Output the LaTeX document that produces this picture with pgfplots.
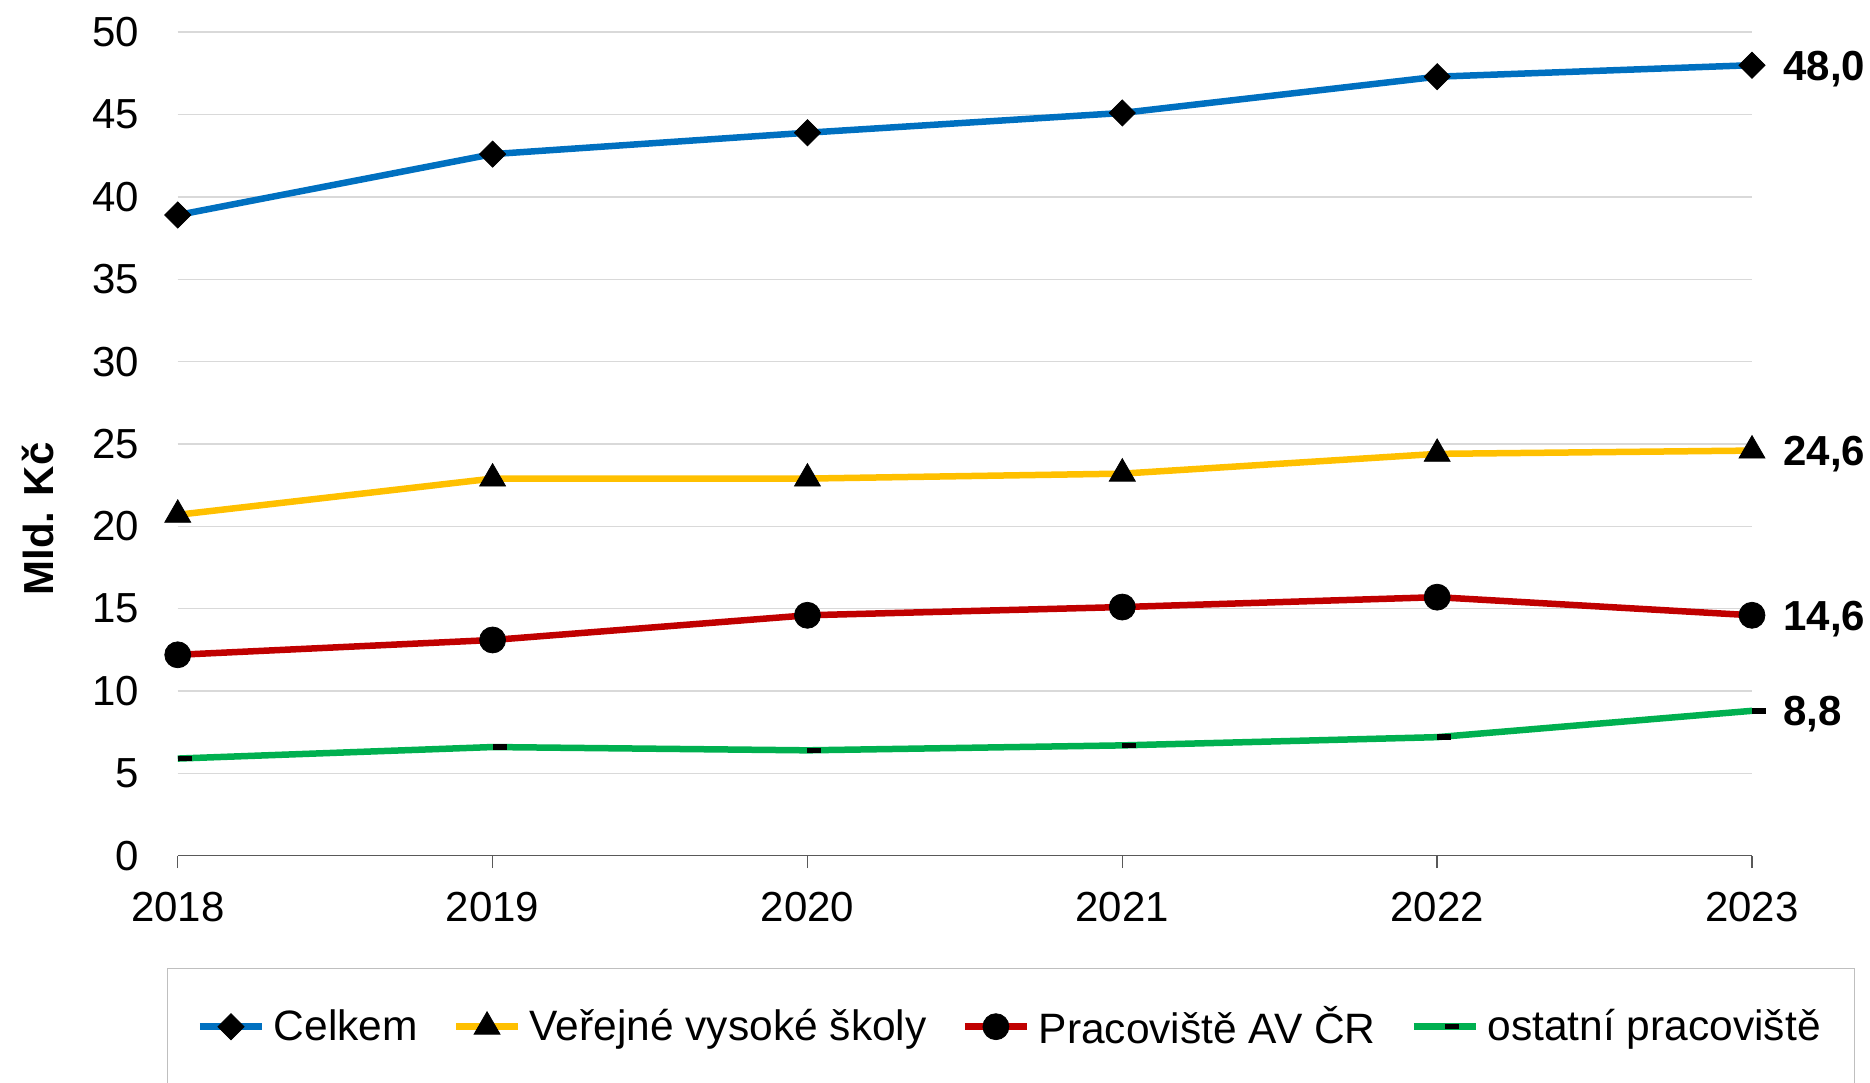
\documentclass[border=0pt]{standalone}
\usepackage{fontspec}
\setmainfont{Liberation Sans}
\usepackage{pgfplots}
\pgfplotsset{compat=1.18}
\definecolor{cblue}{RGB}{0,112,192}
\definecolor{cyellow}{RGB}{255,192,0}
\definecolor{cred}{RGB}{192,0,0}
\definecolor{cgreen}{RGB}{0,176,80}
\definecolor{cgrid}{RGB}{217,217,217}
\definecolor{caxis}{RGB}{89,89,89}
\pgfdeclareplotmark{rdash}{\pgfpathrectangle{\pgfqpoint{0pt}{-1.1pt}}{\pgfqpoint{5.6pt}{2.2pt}}\pgfusepathqfill}
\newcommand{\fs}{\fontsize{16.8}{20}\selectfont}
\newcommand{\fl}{\fontsize{17.0}{20}\selectfont}
\begin{document}
\begin{tikzpicture}
\begin{axis}[
  at={(0,0)}, anchor=south west,
  scale only axis, width=629.7pt, height=329.4pt,
  xmin=2018, xmax=2023, ymin=0, ymax=50,
  clip=false,
  xtick={2018,2019,2020,2021,2022,2023},
  xticklabels={2018,2019,2020,2021,2022,2023},
  ytick={0,5,10,15,20,25,30,35,40,45,50},
  yticklabels={0,5,10,15,20,25,30,35,40,45,50},
  axis x line*=bottom, axis y line*=left,
  x axis line style={draw=caxis, line width=0.6pt, -},
  y axis line style={draw=none},
  tick align=outside, major tick length=5pt,
  xtick style={draw=caxis, line width=0.6pt},
  ytick style={draw=none},
  ymajorgrids, grid style={draw=cgrid, line width=0.6pt},
  xticklabel style={font=\fs, anchor=north, inner sep=0pt, yshift=-9.4pt},
  yticklabel style={font=\fs, anchor=east, inner sep=0pt, xshift=-10.3pt},
  ylabel={Mld. Kč},
  ylabel style={at={(axis description cs:-0.0888,0.409)}, anchor=center, font=\bfseries\fs},
  legend columns=4,
  legend cell align=left,
  legend style={at={(0,0)}, anchor=north west, xshift=-4.3pt, yshift=-44.9pt,
    draw=black!25, line width=0.6pt, font=\fl,
    inner xsep=11.6pt, inner ysep=13pt,
    nodes={inner sep=2pt, text depth=0.15em},
    /tikz/every odd column/.append style={column sep=1.4pt},
    /tikz/every even column/.append style={column sep=12pt}},
  legend image code/.code={\draw[mark repeat=2,mark phase=2] plot coordinates {(0pt,0pt) (12.4pt,0pt) (24.8pt,0pt)};},
]
\addplot[color=cblue, line width=2.6pt, mark=square*, mark size=3.7pt,
  mark options={draw=black, fill=black, line width=0.3pt, rotate=45}]
  coordinates {(2018,38.9) (2019,42.6) (2020,43.9) (2021,45.1) (2022,47.3) (2023,48.0)};
\addlegendentry{Celkem}
\addplot[color=cyellow, line width=2.6pt, mark=triangle*, mark size=6pt,
  mark options={draw=black, fill=black, line width=0.3pt}]
  coordinates {(2018,20.7) (2019,22.9) (2020,22.9) (2021,23.2) (2022,24.4) (2023,24.6)};
\addlegendentry{Veřejné vysoké školy}
\addplot[color=cred, line width=2.6pt, mark=*, mark size=5.2pt,
  mark options={draw=black, fill=black, line width=0.3pt}]
  coordinates {(2018,12.2) (2019,13.1) (2020,14.6) (2021,15.1) (2022,15.7) (2023,14.6)};
\addlegendentry{Pracoviště AV ČR}
\addplot[color=cgreen, line width=2.6pt, mark=rdash,
  mark options={draw=none, fill=black}]
  coordinates {(2018,5.9) (2019,6.6) (2020,6.4) (2021,6.7) (2022,7.2) (2023,8.8)};
\addlegendentry{ostatní pracoviště}
\node[anchor=base west, inner sep=0pt, xshift=12.4pt, yshift=-6pt, font=\bfseries\fs] at (axis cs:2023,48.0) {48,0};
\node[anchor=base west, inner sep=0pt, xshift=12.4pt, yshift=-6pt, font=\bfseries\fs] at (axis cs:2023,24.6) {24,6};
\node[anchor=base west, inner sep=0pt, xshift=12.4pt, yshift=-6pt, font=\bfseries\fs] at (axis cs:2023,14.6) {14,6};
\node[anchor=base west, inner sep=0pt, xshift=12.4pt, yshift=-6pt, font=\bfseries\fs] at (axis cs:2023,8.8) {8,8};
\end{axis}
\pgfresetboundingbox
\path[use as bounding box] (-71.1pt,-90.9pt) rectangle (676.9pt,342.3pt);
\end{tikzpicture}
\end{document}
